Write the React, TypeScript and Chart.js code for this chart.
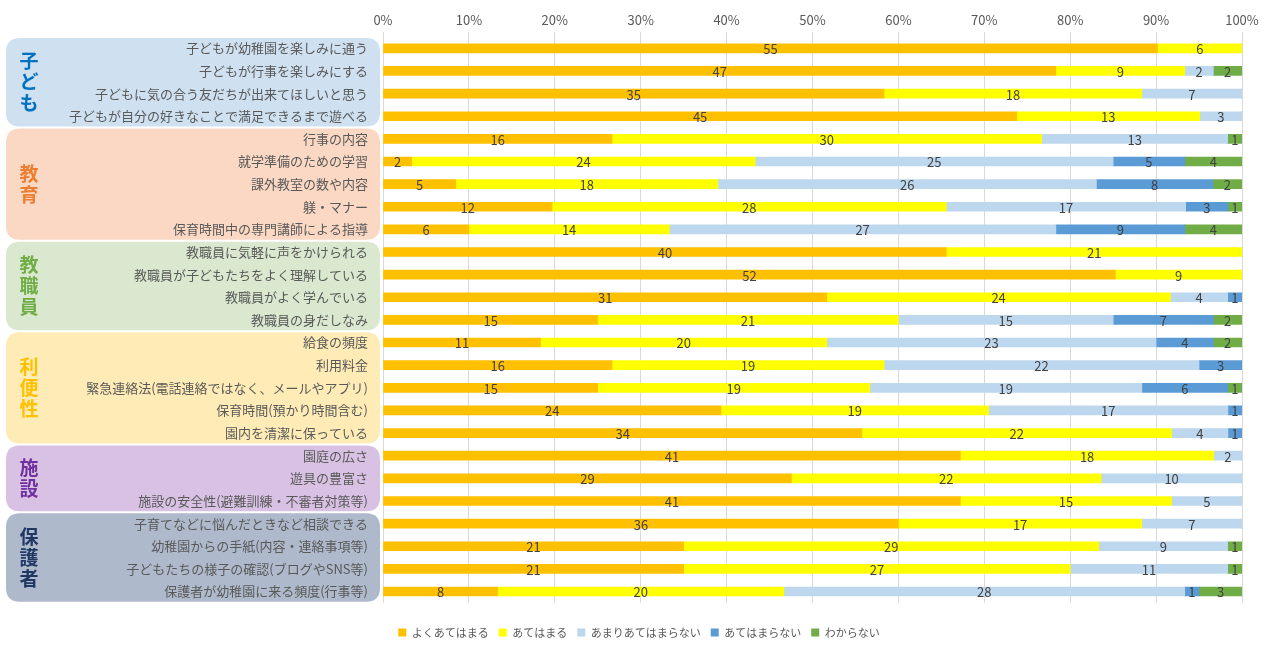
import React, { useEffect, useRef } from 'react';
import { Chart, registerables } from 'chart.js';

Chart.register(...registerables);

const categories = [
  '子どもが幼稚園を楽しみに通う',
  '子どもが行事を楽しみにする',
  '子どもに気の合う友だちが出来てほしいと思う',
  '子どもが自分の好きなことで満足できるまで遊べる',
  '行事の内容',
  '就学準備のための学習',
  '課外教室の数や内容',
  '躾・マナー',
  '保育時間中の専門講師による指導',
  '教職員に気軽に声をかけられる',
  '教職員が子どもたちをよく理解している',
  '教職員がよく学んでいる',
  '教職員の身だしなみ',
  '給食の頻度',
  '利用料金',
  '緊急連絡法(電話連絡ではなく、メールやアプリ)',
  '保育時間(預かり時間含む)',
  '園内を清潔に保っている',
  '園庭の広さ',
  '遊具の豊富さ',
  '施設の安全性(避難訓練・不審者対策等)',
  '子育てなどに悩んだときなど相談できる',
  '幼稚園からの手紙(内容・連絡事項等)',
  '子どもたちの様子の確認(ブログやSNS等)',
  '保護者が幼稚園に来る頻度(行事等)',
];

const seriesNames = ['よくあてはまる', 'あてはまる', 'あまりあてはまらない', 'あてはまらない', 'わからない'];
const veryTrue = [55, 47, 35, 45, 16, 2, 5, 12, 6, 40, 52, 31, 15, 11, 16, 15, 24, 34, 41, 29, 41, 36, 21, 21, 8];
const somewhatTrue = [6, 9, 18, 13, 30, 24, 18, 28, 14, 21, 9, 24, 21, 20, 19, 19, 19, 22, 18, 22, 15, 17, 29, 27, 20];
const notMuch = [0, 2, 7, 3, 13, 25, 26, 17, 27, 0, 0, 4, 15, 23, 22, 19, 17, 4, 2, 10, 5, 7, 9, 11, 28];
const notTrue = [0, 0, 0, 0, 0, 5, 8, 3, 9, 0, 0, 1, 7, 4, 3, 6, 1, 1, 0, 0, 0, 0, 0, 0, 1];
const unknown = [0, 2, 0, 0, 1, 4, 2, 1, 4, 0, 0, 0, 2, 2, 0, 1, 0, 0, 0, 0, 0, 0, 1, 1, 3];
const seriesColors = ['#FFC000', '#FFFF00', '#BDD7EE', '#5B9BD5', '#70AD47'];

const xTicks = [0, 10, 20, 30, 40, 50, 60, 70, 80, 90, 100];

const groupLabels = ['子ども', '教育', '教職員', '利便性', '施設', '保護者'];
const groupStarts = [0, 4, 9, 13, 18, 21];
const groupEnds = [3, 8, 12, 17, 20, 24];
const groupFills = ['#CFE0F1', '#FAD8C3', '#D9E8CE', '#FEEBB6', '#D8C1E3', '#AEB9CB'];
const groupTextColors = ['#0070C0', '#ED7D31', '#70AD47', '#FFC000', '#7030A0', '#1F3864'];

const FONT = '"Noto Sans CJK JP", "Noto Sans", sans-serif';

function roundRect(ctx: CanvasRenderingContext2D, x: number, y: number, w: number, h: number, r: number) {
  ctx.beginPath();
  ctx.moveTo(x + r, y);
  ctx.lineTo(x + w - r, y);
  ctx.quadraticCurveTo(x + w, y, x + w, y + r);
  ctx.lineTo(x + w, y + h - r);
  ctx.quadraticCurveTo(x + w, y + h, x + w - r, y + h);
  ctx.lineTo(x + r, y + h);
  ctx.quadraticCurveTo(x, y + h, x, y + h - r);
  ctx.lineTo(x, y + r);
  ctx.quadraticCurveTo(x, y, x + r, y);
  ctx.closePath();
}

const groupPlugin = {
  id: 'groupBoxes',
  afterLayout(chart: any) {
    if (chart.legend) {
      chart.legend.left += 18;
      chart.legend.right += 18;
    }
  },
  beforeDraw(chart: any) {
    const { ctx } = chart;
    const y = chart.scales.y;
    const step = y.getPixelForValue(1) - y.getPixelForValue(0);
    ctx.save();
    for (let g = 0; g < groupLabels.length; g++) {
      const top = y.getPixelForValue(groupStarts[g]) - step / 2 + 1;
      const bottom = y.getPixelForValue(groupEnds[g]) + step / 2 - 1;
      ctx.fillStyle = groupFills[g];
      roundRect(ctx, 6, top, 374, bottom - top, 14);
      ctx.fill();
      const chars = Array.from(groupLabels[g]);
      const lh = 21;
      const mid = (top + bottom) / 2;
      ctx.fillStyle = groupTextColors[g];
      ctx.font = 'bold 19px ' + FONT;
      ctx.textAlign = 'center';
      ctx.textBaseline = 'middle';
      chars.forEach((c, i) => {
        ctx.fillText(c, 29, mid + (i - (chars.length - 1) / 2) * lh);
      });
    }
    ctx.restore();
  },
};

const labelPlugin = {
  id: 'barCounts',
  afterDatasetsDraw(chart: any) {
    const { ctx } = chart;
    ctx.save();
    ctx.font = '13px ' + FONT;
    ctx.fillStyle = '#404040';
    ctx.textAlign = 'center';
    ctx.textBaseline = 'middle';
    chart.data.datasets.forEach((ds: any, di: number) => {
      const meta = chart.getDatasetMeta(di);
      meta.data.forEach((el: any, i: number) => {
        const count = ds.counts[i];
        if (!count) return;
        const p = el.getProps(['x', 'y', 'base'], true);
        ctx.fillText(String(count), (p.x + p.base) / 2, p.y + 1);
      });
    });
    ctx.restore();
  },
};

export default function App() {
  const ref = useRef<HTMLCanvasElement | null>(null);

  useEffect(() => {
    if (!ref.current) return;
    const all = [veryTrue, somewhatTrue, notMuch, notTrue, unknown];
    const totals = categories.map((_, i) => all.reduce((s, arr) => s + arr[i], 0));
    const datasets = all.map((arr, k) => ({
      label: seriesNames[k],
      data: arr.map((v, i) => (v / totals[i]) * 100),
      counts: arr,
      backgroundColor: seriesColors[k],
      borderWidth: 0,
      barThickness: 9,
    }));

    const chart = new Chart(ref.current, {
      type: 'bar',
      data: { labels: categories, datasets: datasets as any },
      plugins: [groupPlugin, labelPlugin],
      options: {
        indexAxis: 'y',
        animation: false,
        responsive: true,
        maintainAspectRatio: false,
        layout: { padding: { left: 0, right: 35, top: 0, bottom: 0 } },
        scales: {
          x: {
            position: 'top',
            stacked: true,
            min: 0,
            max: 100,
            afterBuildTicks: (scale: any) => {
              scale.ticks = xTicks.map((v) => ({ value: v }));
            },
            afterFit: (scale: any) => {
              scale.height = 37;
            },
            ticks: {
              callback: (v: any) => v + '%',
              color: '#595959',
              font: { family: FONT, size: 13 },
              padding: 4,
              maxRotation: 0,
            },
            grid: { color: '#D9D9D9', tickLength: 5, drawTicks: true },
            border: { display: false },
          },
          y: {
            stacked: true,
            afterFit: (scale: any) => {
              scale.width = 383;
            },
            ticks: {
              autoSkip: false,
              color: '#595959',
              font: { family: FONT, size: 13 },
              padding: 15,
            },
            grid: { display: false, drawTicks: false },
            border: { display: false },
          },
        },
        plugins: {
          legend: {
            position: 'bottom',
            title: { display: true, text: '', font: { size: 1 }, padding: { top: 13, bottom: 0 } },
            labels: {
              boxWidth: 8,
              boxHeight: 8,
              padding: 10,
              color: '#595959',
              font: { family: FONT, size: 11 },
            },
          },
          tooltip: { enabled: false },
        },
      } as any,
    });
    return () => chart.destroy();
  }, []);

  return (
    <div style={{ position: 'fixed', left: 0, top: 0, width: 1277, height: 648, background: '#fff' }}>
      <canvas ref={ref} />
    </div>
  );
}
